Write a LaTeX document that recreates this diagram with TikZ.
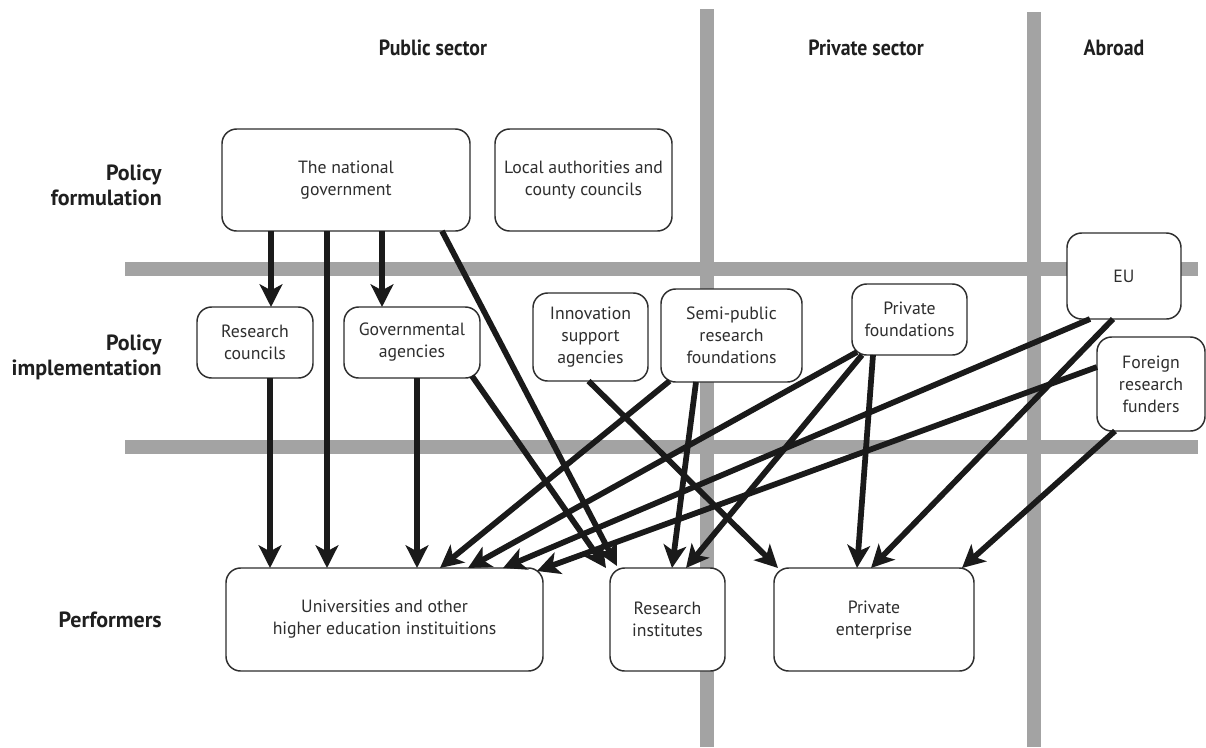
\documentclass[tikz,border=0pt]{standalone}
\usepackage{fontspec}
\usepackage{graphicx}
\setmainfont{PT Sans}
\usetikzlibrary{arrows.meta,calc}
\definecolor{barc}{HTML}{A3A3A3}
\definecolor{ink}{HTML}{2E2E2E}
\definecolor{arr}{HTML}{1A1A1A}
\tikzset{
  box/.style={draw=ink, line width=1.1pt, rounded corners=11pt, fill=white, align=center,
    text=ink, font=\fontsize{13.3}{16.5}\selectfont, inner sep=0pt, outer sep=0pt},
  barline/.style={draw=barc, line width=10.5pt},
  flow/.style={draw=arr, line width=4.3pt, -{Stealth[length=17pt,width=17pt,inset=4.5pt]}},
  rowlabel/.style={anchor=east, align=right, font=\bfseries\fontsize{16.5}{18.75}\selectfont,
    text=black!88, inner sep=0pt},
  colhead/.style={font=\bfseries\fontsize{16.5}{18.75}\selectfont, text=black!88, inner sep=0pt}
}
\begin{document}
\begin{tikzpicture}[x=0.75pt, y=-0.75pt]
\fill[white] (0,0) rectangle (1206,747);
\useasboundingbox (0,0) rectangle (1206,747);

% gray grid bars
\coordinate (v1t) at (707,9);   \coordinate (v1b) at (707,747);
\coordinate (v2t) at (1034,12); \coordinate (v2b) at (1034,747);
\coordinate (h1l) at (125,269); \coordinate (h1r) at (1198,269);
\coordinate (h2l) at (125,447); \coordinate (h2r) at (1198,447);
\draw[barline] (v1t) -- (v1b);
\draw[barline] (v2t) -- (v2b);
\draw[barline] (h1l) -- (h1r);
\draw[barline] (h2l) -- (h2r);

% headers
\node[colhead] (hpub) at (433,48) {\scalebox{0.9}[1]{Public sector}};
\node[colhead] (hpriv) at (866,48) {\scalebox{0.9}[1]{Private sector}};
\node[colhead] (habr) at (1114,48) {\scalebox{0.9}[1]{Abroad}};

% row labels
\node[rowlabel] (lform) at (162,185.5) {Policy\\formulation};
\node[rowlabel] (limpl) at (162,357.5) {Policy\\implementation};
\node[rowlabel] (lperf) at (162,620) {Performers};

% boxes
\node[box, minimum width=186pt, minimum height=76.5pt] (gov) at (346,180) {The national\\government};
\node[box, minimum width=132.75pt, minimum height=76.5pt] (loc) at (583.5,180) {Local authorities and\\county councils};
\node[box, minimum width=87pt, minimum height=53.25pt] (rc) at (255,342.5) {Research\\councils};
\node[box, minimum width=102pt, minimum height=53.25pt] (ga) at (412,342.5) {Governmental\\agencies};
\node[box, minimum width=86.25pt, minimum height=66pt] (inn) at (590.5,337) {Innovation\\support\\agencies};
\node[box, minimum width=105.75pt, minimum height=69.75pt] (semi) at (731.5,335.5) {Semi-public\\research\\foundations};
\node[box, minimum width=86.25pt, minimum height=53.25pt] (pf) at (909.5,319.5) {Private\\foundations};
\node[box, minimum width=85.5pt, minimum height=64.5pt] (eu) at (1124,276) {EU};
\node[box, minimum width=81pt, minimum height=70.5pt] (frf) at (1151,384) {Foreign\\research\\funders};
\node[box, minimum width=237.75pt, minimum height=77.25pt] (uni) at (384.5,619.5) {Universities and other\\higher education instituitions};
\node[box, minimum width=86.25pt, minimum height=77.25pt] (ri) at (667.5,619.5) {Research\\institutes};
\node[box, minimum width=150pt, minimum height=77.25pt] (pe) at (874,619.5) {Private\\enterprise};

% connectors
\draw[flow] ($(gov.south)+(-75,0)$) -- ($(rc.north)+(16,0)$);
\draw[flow] ($(gov.south)+(-19,0)$) -- ($(uni.north)+(-57.5,0)$);
\draw[flow] ($(gov.south)+(36,0)$) -- ($(ga.north)+(-30,0)$);
\draw[flow] ($(gov.south)+(96,0)$) -- ($(ri.north)+(-50.5,-2)$);
\draw[flow] ($(rc.south)+(15,0)$) -- ($(uni.north)+(-114.5,0)$);
\draw[flow] ($(ga.south)+(5,0)$) -- ($(uni.north)+(32.5,0)$);
\draw[flow] ($(ga.south)+(60,-2)$) -- ($(ri.north)+(-61.5,0)$);
\draw[flow] ($(inn.south)+(-2,0)$) -- ($(pe.north)+(-96,0)$);
\draw[flow] ($(semi.south)+(-62,-1)$) -- ($(uni.north)+(55.5,0)$);
\draw[flow] ($(semi.south)+(-35.5,0)$) -- ($(ri.north)+(4.5,0)$);
\draw[flow] ($(pf.south)+(-52.5,-3)$) -- ($(uni.north)+(83.5,0)$);
\draw[flow] ($(pf.south)+(-47.5,0)$) -- ($(ri.north)+(18.5,0)$);
\draw[flow] ($(pf.south)+(-36.5,0)$) -- ($(pe.north)+(-17,0)$);
\draw[flow] ($(eu.south)+(-34,0)$) -- ($(uni.north)+(118.5,0)$);
\draw[flow] ($(eu.south)+(-11,0)$) -- ($(pe.north)+(-3,0)$);
\draw[flow] ($(frf.west)+(0,-17)$) -- ($(uni.north)+(152.5,3)$);
\draw[flow] ($(frf.south)+(-36,0)$) -- ($(pe.north)+(88,0)$);
\end{tikzpicture}
\end{document}
